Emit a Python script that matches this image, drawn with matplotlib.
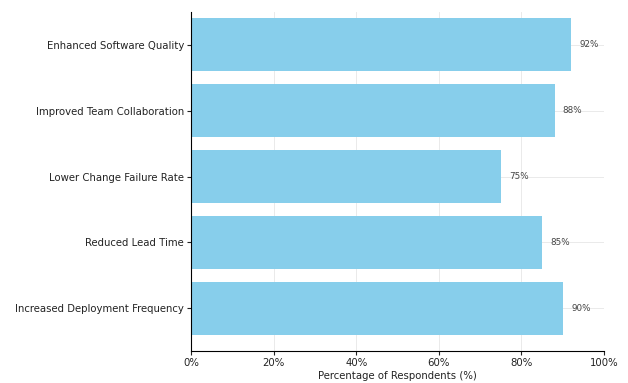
import matplotlib
matplotlib.use("Agg")
import matplotlib.pyplot as plt
from matplotlib.ticker import PercentFormatter

# benefits, listed bottom to top
benefits = [
    "Increased Deployment Frequency",
    "Reduced Lead Time",
    "Lower Change Failure Rate",
    "Improved Team Collaboration",
    "Enhanced Software Quality",
]
percentages = [90, 85, 75, 88, 92]

fig = plt.figure(figsize=(6.28, 3.83), dpi=100)
ax = fig.add_axes([0.304, 0.083, 0.658, 0.886])

ax.barh(benefits, percentages, height=0.8, color="skyblue", zorder=2)

# value labels just past the end of each bar
for i, p in enumerate(percentages):
    ax.text(p + 2, i, f"{p}%", va="center", ha="left", fontsize=6.3, color="#444444")

ax.set_xlim(0, 100)
ax.set_ylim(-0.65, 4.5)
ax.xaxis.set_major_formatter(PercentFormatter(decimals=0))
ax.set_xlabel("Percentage of Respondents (%)", fontsize=7.3, color="#222222", labelpad=2)
ax.tick_params(axis="both", labelsize=7.3, colors="#222222", length=3, pad=2)

ax.grid(True, linestyle="-", linewidth=0.6, color="#e6e6e6", zorder=0)
ax.spines["top"].set_visible(False)
ax.spines["right"].set_visible(False)

fig.savefig("out.png", dpi=100)
